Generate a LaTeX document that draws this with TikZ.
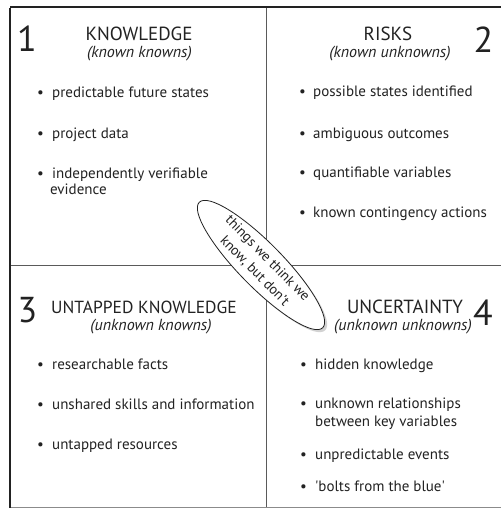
\documentclass[tikz,border=0pt]{standalone}
\usepackage{fontspec}
\setmainfont{PT Sans}
\usetikzlibrary{shapes.geometric,shadows}
\definecolor{ink}{HTML}{222222}
\definecolor{rule}{HTML}{5A5A5A}
\begin{document}
\begin{tikzpicture}[x=1pt,y=-1pt,
  every node/.style={inner sep=0pt, text=ink},
  itm/.style={anchor=base west, font=\fontsize{15}{18}\selectfont},
  bul/.style={anchor=base west, font=\fontsize{15}{18}\selectfont},
  ttl/.style={anchor=base, font=\fontsize{19}{22}\selectfont},
  sub/.style={anchor=base, font=\fontsize{16}{18}\selectfont\itshape},
  num/.style={anchor=base, font=\fontsize{36}{40}\selectfont},
  border/.style={draw=ink, line width=1.8pt},
  divider/.style={draw=rule, line width=0.9pt},
  oval/.style={ellipse, draw=ink, line width=0.8pt, fill=white,
    minimum width=176pt, minimum height=44pt, rotate=-45.5,
    drop shadow={shadow xshift=2.5pt, shadow yshift=-2.5pt, opacity=0.35}},
  ovaltext/.style={rotate=-45.5, align=center,
    font=\fontsize{14}{18}\selectfont}
]
\useasboundingbox (0,0) rectangle (501,508);
\fill[white] (0,0) rectangle (501,508);
% frame coordinates
\coordinate (tl) at (10,7);
\coordinate (tr) at (501,7);
\coordinate (bl) at (10,507);
\coordinate (br) at (501,507);
\coordinate (vt) at (266,7);
\coordinate (vb) at (266,508);
\coordinate (hl) at (10,265);
\coordinate (hr) at (501,265);
\draw[divider] (vt) -- (vb);
\draw[divider] (hl) -- (hr);
\draw[draw=rule!70, line width=1pt] (bl) -- (br);
\draw[border, line width=1.4pt] (tl) -- (tr);
\draw[border] ([yshift=-0.7pt]tl) -- (10,508);

% Quadrant 1
\node[num] (n1) at (27,52) {1};
\node[ttl] (t1) at (139,41) {KNOWLEDGE};
\node[sub] (s1) at (139.5,58) {(known knowns)};
\node[bul] (b1a) at (37,98) {\textbullet};
\node[itm] (i1a) at (52,98) {predictable future states};
\node[bul] (b1b) at (37,138) {\textbullet};
\node[itm] (i1b) at (52,138) {project data};
\node[bul] (b1c) at (37,178) {\textbullet};
\node[itm] (i1c) at (52,178) {independently verifiable};
\node[itm] (i1d) at (50,194) {evidence};

% Quadrant 2
\node[num] (n2) at (483.5,53) {2};
\node[ttl] (t2) at (388,41) {RISKS};
\node[sub] (s2) at (390,58) {(known unknowns)};
\node[bul] (b2a) at (299,97) {\textbullet};
\node[itm] (i2a) at (313,97) {possible states identified};
\node[bul] (b2b) at (299,138) {\textbullet};
\node[itm] (i2b) at (313,138) {ambiguous outcomes};
\node[bul] (b2c) at (299,177) {\textbullet};
\node[itm] (i2c) at (313,177) {quantifiable variables};
\node[bul] (b2d) at (299,217) {\textbullet};
\node[itm] (i2d) at (313,217) {known contingency actions};

% Quadrant 3
\node[num] (n3) at (27.5,322) {3};
\node[ttl, anchor=base west, font=\fontsize{17.5}{21}\selectfont] (t3) at (51,313) {UNTAPPED KNOWLEDGE};
\node[sub] (s3) at (151,330) {(unknown knowns)};
\node[bul] (b3a) at (37,369) {\textbullet};
\node[itm] (i3a) at (52,369) {researchable facts};
\node[bul] (b3b) at (37,409) {\textbullet};
\node[itm] (i3b) at (52,409) {unshared skills and information};
\node[bul] (b3c) at (37,449) {\textbullet};
\node[itm] (i3c) at (52,449) {untapped resources};

% Quadrant 4
\node[num] (n4) at (483,325) {4};
\node[ttl] (t4) at (405,313) {UNCERTAINTY};
\node[sub] (s4) at (403,330) {(unknown unknowns)};
\node[bul] (b4a) at (300,369) {\textbullet};
\node[itm] (i4a) at (315,369) {hidden knowledge};
\node[bul] (b4b) at (300,408) {\textbullet};
\node[itm] (i4b) at (315,408) {unknown relationships};
\node[itm] (i4c) at (315,426) {between key variables};
\node[bul] (b4d) at (300,459) {\textbullet};
\node[itm] (i4d) at (315,459) {unpredictable events};
\node[bul] (b4e) at (300,491) {\textbullet};
\node[itm] (i4e) at (315,491) {\textquotesingle bolts from the blue\textquotesingle};

% central ellipse
\node[oval] (ov) at (261,265) {};
\node[ovaltext] (ovt) at (ov.center) {things we think we\\know, but don't};
\end{tikzpicture}
\end{document}
